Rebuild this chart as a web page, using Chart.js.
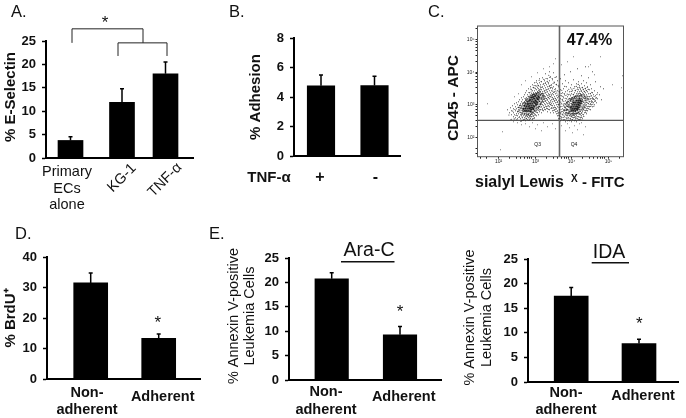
<!DOCTYPE html>
<html>
<head>
<meta charset="utf-8">
<script src="https://cdn.jsdelivr.net/npm/chart.js@4/dist/chart.umd.min.js"></script>
<style>
  html, body { margin: 0; padding: 0; background: #fff; overflow: hidden; }
  #figure { position: relative; width: 686px; height: 418px; filter: blur(0.35px); }
  #figure canvas { position: absolute; left: 0; top: 0; }
  #figure canvas.flow { filter: blur(0.55px); }
</style>
</head>
<body>
<div id="figure"></div>
<script>
// panel A
const aCategories = [["Primary", "ECs", "alone"], ["KG-1"], ["TNF-α"]];
const aValues = [3.75, 11.9, 18];
const aErrors = [0.8, 2.9, 2.5];
const aTicks = [0, 5, 10, 15, 20, 25];
// significance brackets of panel A (axis units)
const aBracketOuterX = [26, 26, 97, 97];
const aBracketOuterY = [24.6, 27.6, 27.6, 24.6];
const aBracketInnerX = [72, 72, 121, 121];
const aBracketInnerY = [21.8, 24.6, 24.6, 21.8];

// panel B
const bCategories = [["+"], ["-"]];
const bValues = [4.76, 4.78];
const bErrors = [0.73, 0.62];
const bTicks = [0, 2, 4, 6, 8];

// panel C, flow cytometry events in display channels
const cXTicks = [3, 9, 21, 32, 38.5, 43, 46.5, 49.5, 52, 54, 58, 69, 75.5, 80, 83.5, 86.5, 89, 91, 94, 105, 111.5, 116, 119.5, 122.5, 125, 127, 131, 142];
const cXMajor = [21, 58, 94, 131];
const cXTickLabels = ["10²", "10³", "10⁴", "10⁵"];
const cYTicks = [3, 8, 19, 30, 36.5, 41, 44.5, 47.5, 50, 52, 63, 69.5, 74, 77.5, 80.5, 83, 84, 95, 101.5, 106, 109.5, 112.5, 115, 117, 128];
const cYMajor = [19, 52, 84, 117];
const cYTickLabels = ["10²", "10³", "10⁴", "10⁵"];
const cGateX = 82;
const cGateY = 36.4;
const cCoreEvents = [
  [46,48],[47,51],[47,46],[48,48],[48,53],[49,46],[49,50],
  [50,48],[50,52],[50,55],[51,46],[51,50],[51,53],[52,48],[52,51],[52,56],[53,45],[53,49],[53,53],[53,57],
  [54,47],[54,51],[54,55],[54,59],[55,49],[55,53],[55,57],[56,48],[56,51],[56,55],[56,60],[57,50],[57,54],[57,58],
  [58,53],[58,56],[58,61],[59,52],[59,55],[59,59],[60,54],[60,58],[61,57],[61,60],[62,59],
  [93,49],[94,46],[94,50],[95,48],[95,52],
  [96,46],[96,50],[96,54],[97,48],[97,52],[98,46],[98,50],[98,54],[99,48],[99,52],[99,56],
  [100,47],[100,50],[100,54],[101,49],[101,52],[101,56],[102,51],[102,54],[102,58],
  [103,53],[103,56],[104,55]
];
// darker ring round the two cores
const cMidEvents = [
  [40.6,45.3],[41.4,49.2],[42.3,46.6],[42.7,51.3],[43.4,44.2],[43.6,48.4],[44.3,42.6],[44.7,46.3],[44.4,50.7],[45.3,44.6],[45.6,48.2],[45.4,53.3],
  [46.6,42.7],[46.3,45.4],[46.7,51.2],[47.4,43.3],[47.7,48.6],[47.3,54.4],[48.6,41.4],[48.3,45.7],[48.7,50.6],[48.4,56.2],[49.3,43.6],[49.7,53.4],[49.4,57.3],
  [50.6,41.7],[50.3,45.2],[51.4,43.3],[51.7,48.4],[51.3,55.6],[51.6,58.4],[52.4,41.2],[52.7,45.6],[52.3,53.7],[52.6,59.4],[53.6,42.4],[53.4,47.3],[53.7,59.6],
  [54.6,44.3],[54.3,49.2],[54.7,61.4],[55.4,43.7],[55.7,47.3],[55.3,59.2],[55.6,62.3],[56.6,45.4],[56.3,58.3],[56.7,62.6],[57.4,46.2],[57.7,56.4],[57.3,60.6],
  [58.6,48.3],[58.3,51.4],[58.7,63.4],[59.4,49.6],[59.7,57.2],[59.3,62.3],[60.6,48.7],[60.3,52.4],[60.7,60.6],[60.4,64.3],[61.4,50.3],[61.7,55.2],[61.3,62.4],
  [62.6,52.3],[62.3,55.4],[62.7,61.3],[62.4,64.6],[63.4,53.7],[63.7,57.4],[63.3,62.3],[64.6,55.3],[64.3,59.4],[64.7,63.2],[65.4,57.6],[65.7,61.3],[66.4,60.2],[67.3,58.4],
  [86.4,46.3],[87.3,49.4],[88.4,44.2],[88.7,47.6],[88.3,52.4],[89.6,42.7],[89.3,46.3],[89.7,50.2],[89.4,54.3],[90.6,43.4],[90.3,47.2],[90.7,51.6],[90.4,55.3],
  [91.7,45.2],[91.3,49.6],[91.6,52.4],[92.4,43.3],[92.7,47.4],[92.3,50.7],[92.6,56.4],[93.6,41.7],[93.3,45.4],[93.7,53.2],[93.4,57.3],[94.7,43.2],[94.4,47.6],[94.6,55.4],[94.3,58.6],
  [95.6,42.3],[95.3,45.7],[95.7,54.3],[95.4,57.6],[96.4,43.3],[96.7,47.6],[96.3,56.2],[96.6,59.4],[97.4,42.6],[97.7,45.3],[97.3,54.6],[97.6,58.3],[98.6,43.7],[98.3,48.2],[98.7,56.4],[98.4,60.2],
  [99.4,43.2],[99.7,46.6],[99.3,50.3],[99.6,58.4],[100.6,44.6],[100.3,48.4],[100.7,52.3],[100.4,56.7],[100.6,60.2],[101.4,43.7],[101.7,47.2],[101.3,54.3],[101.6,58.7],[102.6,45.6],[102.3,49.2],[102.7,56.3],[102.4,60.4],
  [103.6,47.3],[103.3,50.7],[103.7,58.4],[103.4,61.6],[104.6,49.6],[104.3,53.2],[104.7,57.3],[104.4,60.6],[105.4,48.3],[105.7,51.7],[105.3,55.6],[105.6,59.4],[106.6,50.2],[106.3,54.4],[106.7,58.3],[107.4,52.6],[107.7,56.3],[107.3,60.2],[108.6,54.4],[108.3,58.3],[109.4,56.6],[110.4,58.2]
];
const cHaloEvents = [
  [30,47],[32,44],[33,49],[34,42],[34,46],[35,51],[36,40],[36,44],[36,48],[37,53],[37,42],[38,46],[38,50],[38,39],[39,43],[39,48],[39,54],
  [40,41],[40,45],[40,52],[40,38],[41,43],[41,47],[41,55],[42,40],[42,51],[42,57],[43,38],[43,42],[43,53],[44,36],[44,41],[44,55],[44,59],
  [45,39],[45,43],[45,52],[45,57],[46,37],[46,41],[46,54],[46,60],[47,39],[47,42],[47,55],[47,62],[48,36],[48,40],[48,57],[48,64],
  [49,38],[49,42],[49,59],[49,66],[50,37],[50,40],[50,58],[50,62],[51,39],[51,42],[51,60],[51,68],[52,37],[52,40],[52,60],[52,64],
  [53,38],[53,42],[53,61],[53,70],[54,40],[54,43],[54,63],[54,67],[55,38],[55,42],[55,62],[55,66],[55,72],[56,41],[56,44],[56,64],[56,69],
  [57,39],[57,43],[57,62],[57,66],[57,74],[58,42],[58,45],[58,64],[58,68],[58,71],[59,41],[59,46],[59,63],[59,67],[59,76],
  [60,44],[60,47],[60,65],[60,69],[60,73],[61,42],[61,48],[61,64],[61,68],[61,71],[62,45],[62,50],[62,63],[62,67],[62,74],[62,78],
  [63,47],[63,52],[63,65],[63,69],[63,72],[64,44],[64,50],[64,54],[64,63],[64,67],[64,75],[65,48],[65,52],[65,56],[65,60],[65,65],[65,70],[65,79],
  [66,46],[66,51],[66,55],[66,59],[66,63],[66,68],[66,73],[67,49],[67,53],[67,57],[67,61],[67,66],[67,71],[67,76],
  [68,47],[68,52],[68,56],[68,60],[68,64],[68,69],[68,74],[68,83],[69,50],[69,54],[69,58],[69,62],[69,67],[69,72],
  [70,45],[70,48],[70,53],[70,57],[70,61],[70,65],[70,70],[70,78],[71,51],[71,55],[71,59],[71,63],[71,68],[71,73],
  [72,47],[72,50],[72,54],[72,58],[72,62],[72,66],[72,71],[72,76],[72,85],[73,44],[73,52],[73,56],[73,60],[73,64],[73,69],[73,80],
  [74,49],[74,53],[74,57],[74,61],[74,66],[74,72],[75,46],[75,51],[75,55],[75,59],[75,63],[75,68],[75,77],
  [76,44],[76,49],[76,53],[76,58],[76,62],[76,70],[76,84],[77,47],[77,51],[77,56],[77,60],[77,65],[77,74],
  [78,45],[78,49],[78,54],[78,58],[78,63],[78,68],[79,43],[79,48],[79,52],[79,57],[79,61],[79,72],[79,80],[80,41],[80,46],[80,50],[80,55],[80,59],[80,66],[80,76],
  [81,38],[81,44],[81,52],[81,60],[81,70],[82,41],[82,47],[82,55],[82,64],[83,36],[83,43],[83,50],[83,58],[83,67],[83,78],
  [84,39],[84,45],[84,53],[84,61],[85,42],[85,48],[85,56],[85,64],[85,73],[86,37],[86,44],[86,51],[86,59],[86,68],[87,40],[87,46],[87,53],[87,62],[87,82],
  [88,35],[88,42],[88,49],[88,56],[88,65],[88,76],[89,38],[89,44],[89,51],[89,58],[89,70],[90,36],[90,41],[90,53],[90,60],[90,66],
  [91,39],[91,43],[91,55],[91,62],[91,74],[92,36],[92,41],[92,54],[92,58],[92,65],[93,38],[93,42],[93,56],[93,61],[93,69],[93,85],
  [94,35],[94,40],[94,57],[94,63],[94,72],[95,37],[95,41],[95,59],[95,66],[96,39],[96,58],[96,62],[96,77],[97,36],[97,41],[97,59],[97,64],[97,70],
  [98,38],[98,40],[98,61],[98,66],[99,35],[99,41],[99,59],[99,63],[99,73],[100,38],[100,61],[100,65],[100,69],[100,88],[101,40],[101,63],[101,67],[101,75],
  [102,37],[102,43],[102,61],[102,65],[102,71],[103,39],[103,42],[103,63],[103,67],[104,41],[104,44],[104,62],[104,66],[104,73],[104,81],
  [105,38],[105,45],[105,64],[105,69],[106,42],[106,47],[106,63],[106,67],[106,76],[107,44],[107,49],[107,62],[107,65],[107,71],
  [108,46],[108,49],[108,64],[108,68],[108,90],[109,43],[109,48],[109,52],[109,62],[109,66],[109,74],[110,46],[110,50],[110,60],[110,65],[110,70],
  [111,48],[111,53],[111,57],[111,63],[111,79],[112,50],[112,55],[112,60],[112,67],[113,47],[113,53],[113,58],[113,63],[113,72],
  [114,52],[114,56],[114,61],[114,68],[115,50],[115,55],[115,59],[115,64],[115,85],[116,54],[116,58],[116,62],[117,52],[117,57],[117,66],
  [118,56],[118,61],[118,75],[119,54],[119,59],[120,58],[120,64],[122,62],[124,57],[126,68],[123,70]
];
// second pass over the same clouds, between the first pass points
const cFineEvents = [
  [31.4,41.7],[33.6,37.3],[35.3,45.6],[36.7,37.8],[37.4,47.2],[38.6,41.3],[39.3,36.9],[40.6,49.3],[41.5,39.2],[42.3,44.6],[42.7,48.8],[43.4,35.2],
  [44.6,39.7],[44.3,49.6],[45.4,36.3],[45.7,47.2],[46.6,50.4],[47.3,37.2],[47.6,58.3],[48.7,38.3],[48.4,45.1],[49.6,40.4],[49.3,55.6],[50.4,42.3],[50.7,60.4],
  [51.3,36.4],[51.6,57.3],[51.4,64.2],[52.6,38.6],[52.3,45.7],[52.7,61.8],[53.4,40.3],[53.6,64.7],[53.3,67.6],[54.7,37.2],[54.4,45.4],[54.3,61.2],
  [55.6,40.2],[55.3,60.4],[55.7,69.3],[56.4,38.3],[56.7,46.6],[56.3,62.6],[56.6,71.2],[57.4,41.6],[57.7,60.4],[57.3,68.7],[58.6,47.4],[58.3,62.7],[58.7,74.4],
  [59.4,44.3],[59.7,61.3],[59.3,70.6],[60.6,49.2],[60.3,63.4],[60.7,71.3],[61.4,46.2],[61.7,50.4],[61.3,66.2],[61.6,76.4],[62.4,47.3],[62.7,53.4],[62.3,65.7],[62.6,70.4],
  [63.4,49.6],[63.7,58.3],[63.3,67.4],[63.6,75.2],[64.6,47.2],[64.3,52.4],[64.7,61.2],[64.4,69.3],[65.3,46.4],[65.7,54.2],[65.4,62.7],[65.6,72.4],[66.6,49.3],[66.3,57.4],[66.7,65.6],[66.4,77.3],
  [67.3,47.2],[67.6,55.3],[67.4,63.7],[67.7,73.2],[68.3,50.4],[68.7,58.2],[68.4,66.6],[68.6,78.2],[69.3,48.3],[69.6,56.4],[69.4,64.7],[69.7,75.3],[70.3,50.6],[70.6,59.3],[70.4,67.4],[70.7,74.2],
  [71.3,47.3],[71.6,53.2],[71.4,61.6],[71.7,70.3],[71.3,81.4],[72.6,52.3],[72.3,60.2],[72.7,68.6],[72.4,79.3],[73.6,48.3],[73.3,54.6],[73.7,62.4],[73.4,71.3],[74.3,51.2],[74.6,59.4],[74.4,69.3],[74.7,78.2],
  [75.4,48.6],[75.7,57.3],[75.3,65.6],[75.6,73.4],[76.4,46.3],[76.7,55.6],[76.3,64.3],[76.6,74.6],[77.4,49.3],[77.7,58.4],[77.3,67.2],[77.6,79.3],[78.3,47.4],[78.6,56.2],[78.4,65.6],[78.7,72.3],
  [79.4,45.2],[79.6,54.3],[79.3,63.7],[80.3,43.4],[80.6,52.3],[80.4,61.6],[80.7,71.4],[81.4,41.3],[81.6,49.2],[81.3,56.4],[81.7,65.3],[82.4,38.2],[82.6,44.3],[82.3,52.6],[82.7,61.4],
  [83.4,40.3],[83.6,47.2],[83.3,54.6],[83.7,63.2],[84.3,37.4],[84.6,42.6],[84.4,50.2],[84.7,57.3],[84.3,66.4],[85.6,39.3],[85.3,45.2],[85.7,52.6],[85.4,60.3],[86.4,41.6],[86.6,47.3],[86.3,55.4],[86.7,63.2],
  [87.3,37.2],[87.6,43.3],[87.4,50.6],[87.7,58.4],[87.3,70.3],[88.6,39.4],[88.3,46.2],[88.7,53.4],[88.4,61.2],[89.3,41.3],[89.6,47.4],[89.4,54.2],[89.7,62.6],[90.3,38.6],[90.6,44.3],[90.4,50.3],[90.7,57.4],
  [91.3,36.3],[91.6,41.6],[91.4,46.2],[91.7,58.3],[91.3,67.4],[92.6,38.4],[92.3,44.6],[92.7,55.2],[92.4,62.4],[93.3,36.6],[93.6,40.3],[93.4,58.2],[93.7,65.3],[94.6,37.2],[94.3,43.4],[94.7,59.3],[94.4,67.6],
  [95.3,39.2],[95.6,44.2],[95.4,56.6],[95.7,62.3],[96.6,36.4],[96.3,41.3],[96.7,60.3],[96.4,68.2],[97.3,39.3],[97.6,43.2],[97.4,57.7],[97.7,66.3],[98.3,36.3],[98.6,42.4],[98.4,60.2],[98.7,70.3],
  [99.3,38.6],[99.6,43.3],[99.4,61.3],[99.7,67.4],[100.3,40.2],[100.6,44.3],[100.4,62.7],[100.7,72.3],[101.3,37.3],[101.6,42.2],[101.4,61.4],[101.7,69.3],[102.3,39.6],[102.6,45.2],[102.4,63.3],[102.7,68.4],
  [103.3,37.4],[103.6,43.3],[103.4,61.6],[103.7,65.2],[104.3,39.3],[104.6,46.2],[104.4,60.7],[104.7,69.3],[105.3,42.4],[105.6,47.3],[105.4,62.2],[105.7,67.4],[106.3,40.3],[106.6,49.2],[106.4,61.4],[106.7,65.3],
  [107.3,46.4],[107.6,51.2],[107.4,60.7],[107.7,68.3],[108.3,44.3],[108.6,50.6],[108.4,59.3],[108.7,66.2],[109.3,46.3],[109.6,54.2],[109.4,60.6],[109.7,69.4],[110.3,48.2],[110.6,53.3],[110.4,57.7],[110.7,67.3],
  [111.3,50.3],[111.6,55.4],[111.4,60.2],[112.3,47.4],[112.6,52.3],[112.4,57.6],[112.7,63.2],[113.3,50.3],[113.6,55.2],[113.4,60.7],[114.3,54.2],[114.6,58.3],[114.4,64.3],[115.3,52.4],[115.6,57.3],[116.3,50.4],[116.6,60.2],[117.4,55.3],[118.3,58.6],[119.4,62.2]
];
const cOutlierEvents = [
  [25,25],[23,7],[10,53],[123,100],[111,90],[145,81],[144,69],[135,72],[117,82],[113,92],
  [48,33],[52,30],[55,34],[58,28],[60,32],[64,26],[66,34],[70,30],[75,33],[78,28],[84,31],[88,26],[90,33],[92,29],[95,24],[97,31],
  [100,27],[102,33],[106,22],[108,30],[104,34],[44,32],[40,34],[36,35],
  [76,93],[78,98],[72,90],[84,92],[90,95],[96,100],[66,88],[60,84],[54,80],[48,76],[44,72],[41,63],[37,60]
];

// panel D
const dCategories = [["Non-", "adherent"], ["Adherent"]];
const dValues = [31.5, 13.3];
const dErrors = [3.25, 1.45];
const dTicks = [0, 10, 20, 30, 40];

// panel E, Ara-C
const araCategories = [["Non-", "adherent"], ["Adherent"]];
const araValues = [20.75, 9.25];
const araErrors = [1.25, 1.7];
// panel E, IDA
const idaCategories = [["Non-", "adherent"], ["Adherent"]];
const idaValues = [17.45, 7.8];
const idaErrors = [1.75, 0.9];
const eTicks = [0, 5, 10, 15, 20, 25];

const INK = "#111";
const BOLD = "bold 15px 'Liberation Sans'";
const BOLD_LABEL = "bold 14.5px 'Liberation Sans'";
const PLAIN = "14.5px 'Liberation Sans'";
const LETTER = "16.5px 'Liberation Sans'";
const STAR = "17px 'Liberation Sans'";
Chart.defaults.font.family = "'Liberation Sans'";
Chart.defaults.animation = false;

// text that has no place on a Chart.js axis, error bars and brackets
const panelExtras = {
  id: "panelExtras",
  afterDraw(chart, args, opts) {
    const ctx = chart.ctx;
    const xs = chart.scales.x;
    const ys = chart.scales.y;
    ctx.save();
    if (opts.errors) {
      ctx.strokeStyle = "#000";
      opts.errors.forEach((err, i) => {
        const x = xs.getPixelForValue(opts.barX[i]);
        const top = ys.getPixelForValue(opts.values[i] + err);
        ctx.lineWidth = 1.5;
        ctx.beginPath();
        ctx.moveTo(x, ys.getPixelForValue(opts.values[i]));
        ctx.lineTo(x, top);
        ctx.moveTo(x - 2, top);
        ctx.lineTo(x + 2, top);
        ctx.stroke();
      });
    }
    (opts.brackets || []).forEach((b) => {
      ctx.strokeStyle = "#222";
      ctx.lineWidth = 1;
      ctx.beginPath();
      b.x.forEach((v, i) => {
        ctx.lineTo(xs.getPixelForValue(v), ys.getPixelForValue(b.y[i]));
      });
      ctx.stroke();
    });
    if (opts.box) {
      const a = chart.chartArea;
      ctx.strokeStyle = "#555";
      ctx.lineWidth = 1;
      ctx.strokeRect(a.left, a.top, a.right - a.left, a.bottom - a.top);
    }
    (opts.rules || []).forEach((r) => {
      ctx.strokeStyle = "#111";
      ctx.lineWidth = 1.5;
      ctx.beginPath();
      ctx.moveTo(r[0], r[2]);
      ctx.lineTo(r[1], r[2]);
      ctx.stroke();
    });
    ctx.fillStyle = INK;
    ctx.textBaseline = "middle";
    (opts.notes || []).forEach((n) => {
      ctx.save();
      ctx.translate(n.x, n.y);
      ctx.rotate(((n.rot || 0) * Math.PI) / 180);
      ctx.font = n.font;
      ctx.textAlign = n.align || "center";
      ctx.fillText(n.text, 0, 0);
      ctx.restore();
    });
    ctx.restore();
  },
};

function addCanvas(className) {
  const canvas = document.createElement("canvas");
  canvas.width = 686;
  canvas.height = 418;
  canvas.style.width = "686px";
  canvas.style.height = "418px";
  if (className) canvas.className = className;
  document.getElementById("figure").appendChild(canvas);
  return canvas;
}

function categoryNotes(cats, labelPos, font) {
  const notes = [];
  cats.forEach((lines, i) => {
    const pos = labelPos[i];
    lines.forEach((text, k) => {
      notes.push({ text, x: pos.x, y: pos.y + k * (pos.step || 17.5), font: pos.font || font, rot: pos.rot });
    });
  });
  return notes;
}

const TICK_BOX = 44; // room kept left of each y axis for its labels

function rajzolBarPanel(p) {
  const barData = p.values.map((v, i) => ({ x: p.barX[i], y: v }));
  new Chart(addCanvas(), {
    type: "bar",
    plugins: [panelExtras],
    data: {
      labels: p.categories.map((c) => c.join(" ")),
      datasets: [{ data: barData, backgroundColor: "#000", barThickness: p.barWidth }],
    },
    options: {
      responsive: false,
      layout: { autoPadding: false, padding: { left: p.left - TICK_BOX, top: p.top, right: 686 - p.right, bottom: 418 - p.bottom } },
      scales: {
        x: {
          type: "linear",
          offset: false,
          min: 0,
          max: p.right - p.left,
          afterFit: (s) => { s.height = 0; },
          grid: { display: false, offset: false },
          ticks: { display: false },
          border: { color: "#000", width: 2 },
        },
        y: {
          min: 0,
          max: p.yTicks[p.yTicks.length - 1],
          afterFit: (s) => { s.width = TICK_BOX; },
          afterBuildTicks: (s) => { s.ticks = p.yTicks.map((value) => ({ value })); },
          grid: { drawOnChartArea: false, tickLength: 4, tickColor: "#000", tickWidth: 1.5 },
          ticks: { color: INK, padding: 6, font: { size: 13, weight: "bold" } },
          border: { color: "#000", width: 2 },
        },
      },
      plugins: {
        legend: { display: false },
        tooltip: { enabled: false },
        panelExtras: {
          errors: p.errors,
          values: p.values,
          barX: p.barX,
          brackets: p.brackets,
          rules: p.rules,
          notes: p.notes.concat(categoryNotes(p.categories, p.labelPos, p.labelFont)),
        },
      },
    },
  });
}

rajzolBarPanel({
  categories: aCategories, values: aValues, errors: aErrors, yTicks: aTicks,
  left: 46, right: 193, top: 41, bottom: 158,
  barX: [24.5, 76, 119.5], barWidth: 25,
  brackets: [{ x: aBracketOuterX, y: aBracketOuterY }, { x: aBracketInnerX, y: aBracketInnerY }],
  labelFont: PLAIN,
  labelPos: [
    { x: 67, y: 172, step: 16.5 },
    { x: 122, y: 178, rot: -45 },
    { x: 165, y: 180, rot: -45 },
  ],
  notes: [
    { text: "A.", x: 11, y: 12, font: LETTER, align: "left" },
    { text: "*", x: 105, y: 23, font: STAR },
    { text: "% E-Selectin", x: 11, y: 97, font: BOLD, rot: -90 },
  ],
});

// panel C's sharp text sits on this canvas too, the flow canvas itself is softened
rajzolBarPanel({
  categories: bCategories, values: bValues, errors: bErrors, yTicks: bTicks,
  left: 294, right: 400, top: 38, bottom: 156,
  barX: [27, 80.5], barWidth: 27.5,
  labelFont: "bold 16px 'Liberation Sans'",
  labelPos: [{ x: 320, y: 178 }, { x: 375.5, y: 178 }],
  notes: [
    { text: "B.", x: 229, y: 12, font: LETTER, align: "left" },
    { text: "% Adhesion", x: 256, y: 97, font: BOLD, rot: -90 },
    { text: "TNF-α", x: 269, y: 178, font: BOLD },
    { text: "C.", x: 428, y: 12, font: LETTER, align: "left" },
    { text: "47.4%", x: 589.5, y: 41, font: "bold 16px 'Liberation Sans'" },
    { text: "CD45 - APC", x: 454, y: 98, font: "bold 15.5px 'Liberation Sans'", rot: -90 },
    { text: "sialyl Lewis", x: 475, y: 183, font: "bold 16px 'Liberation Sans'", align: "left" },
    { text: "X", x: 571, y: 179, font: "bold 10px 'Liberation Sans'", align: "left" },
    { text: "- FITC", x: 582, y: 183, font: BOLD, align: "left" },
  ],
});

rajzolBarPanel({
  categories: dCategories, values: dValues, errors: dErrors, yTicks: dTicks,
  left: 47, right: 200, top: 257, bottom: 379,
  barX: [43.7, 111.7], barWidth: 34,
  labelFont: BOLD_LABEL,
  labelPos: [{ x: 87, y: 392.5 }, { x: 162.7, y: 396.5 }],
  notes: [
    { text: "D.", x: 15, y: 234, font: LETTER, align: "left" },
    { text: "*", x: 157.7, y: 323, font: STAR },
    { text: "% BrdU⁺", x: 11, y: 318, font: BOLD, rot: -90 },
  ],
});

rajzolBarPanel({
  categories: araCategories, values: araValues, errors: araErrors, yTicks: eTicks,
  left: 289, right: 441, top: 258, bottom: 380,
  barX: [42.7, 111], barWidth: 33.5,
  labelFont: BOLD_LABEL,
  labelPos: [{ x: 326, y: 392 }, { x: 403.7, y: 396.5 }],
  rules: [[341, 394.5, 261.7]],
  notes: [
    { text: "E.", x: 209, y: 234, font: LETTER, align: "left" },
    { text: "*", x: 400, y: 312, font: STAR },
    { text: "Ara-C", x: 369, y: 251, font: "19.5px 'Liberation Sans'" },
    { text: "% Annexin V-positive", x: 233.5, y: 316, font: PLAIN, rot: -90 },
    { text: "Leukemia Cells", x: 250, y: 316, font: PLAIN, rot: -90 },
  ],
});

rajzolBarPanel({
  categories: idaCategories, values: idaValues, errors: idaErrors, yTicks: eTicks,
  left: 528, right: 678, top: 259, bottom: 382,
  barX: [43.2, 111], barWidth: 34,
  labelFont: BOLD_LABEL,
  labelPos: [{ x: 566, y: 392.5 }, { x: 643, y: 395.5 }],
  rules: [[591.7, 629, 262.7]],
  notes: [
    { text: "*", x: 639.3, y: 324, font: STAR },
    { text: "IDA", x: 609, y: 253, font: "19.5px 'Liberation Sans'" },
    { text: "% Annexin V-positive", x: 470, y: 317.5, font: PLAIN, rot: -90 },
    { text: "Leukemia Cells", x: 486.5, y: 317.5, font: PLAIN, rot: -90 },
  ],
});

// panel C
function toPoints(list) {
  return list.map((e) => ({ x: e[0], y: e[1] }));
}

new Chart(addCanvas("flow"), {
  type: "scatter",
  plugins: [panelExtras],
  data: {
    datasets: [
      { data: toPoints(cCoreEvents), pointRadius: 1.1, backgroundColor: "rgba(0,0,0,0.8)", borderWidth: 0 },
      { data: toPoints(cMidEvents), pointRadius: 0.8, backgroundColor: "rgba(0,0,0,0.7)", borderWidth: 0 },
      { data: toPoints(cHaloEvents), pointRadius: 0.55, backgroundColor: "#333", borderWidth: 0 },
      { data: toPoints(cFineEvents), pointRadius: 0.55, backgroundColor: "#333", borderWidth: 0 },
      { data: toPoints(cOutlierEvents), pointRadius: 0.5, backgroundColor: "#555", borderWidth: 0 },
      { data: [{ x: cGateX, y: 0 }, { x: cGateX, y: 130.7 }], showLine: true, pointRadius: 0, borderColor: "#666", borderWidth: 1.6 },
      { data: [{ x: 0, y: cGateY }, { x: 146, y: cGateY }], showLine: true, pointRadius: 0, borderColor: "#555", borderWidth: 1.2 },
    ],
  },
  options: {
    responsive: false,
    layout: { autoPadding: false, padding: { left: 477.5 - 12, top: 26, right: 686 - 623.5, bottom: 418 - 156.7 - 10 } },
    scales: {
      x: {
        type: "linear",
        min: 0,
        max: 146,
        afterFit: (s) => { s.height = 10; },
        afterBuildTicks: (s) => { s.ticks = cXTicks.map((value) => ({ value })); },
        grid: { drawOnChartArea: false, tickLength: 2, tickColor: "#222" },
        border: { display: false },
        ticks: {
          autoSkip: false, maxRotation: 0, padding: 0, color: "#222", font: { size: 5 },
          callback: (v) => cXTickLabels[cXMajor.indexOf(v)] || "",
        },
      },
      y: {
        min: 0,
        max: 130.7,
        afterFit: (s) => { s.width = 12; },
        afterBuildTicks: (s) => { s.ticks = cYTicks.map((value) => ({ value })); },
        grid: { drawOnChartArea: false, tickLength: 2, tickColor: "#222" },
        border: { display: false },
        ticks: {
          autoSkip: false, padding: 1, color: "#222", font: { size: 5 },
          callback: (v) => cYTickLabels[cYMajor.indexOf(v)] || "",
        },
      },
    },
    plugins: {
      legend: { display: false },
      tooltip: { enabled: false },
      panelExtras: {
        box: true,
        notes: [
          { text: "Q3", x: 537.7, y: 144.5, font: "5px 'Liberation Sans'" },
          { text: "Q4", x: 574, y: 144.5, font: "5px 'Liberation Sans'" },
        ],
      },
    },
  },
});
</script>
</body>
</html>
